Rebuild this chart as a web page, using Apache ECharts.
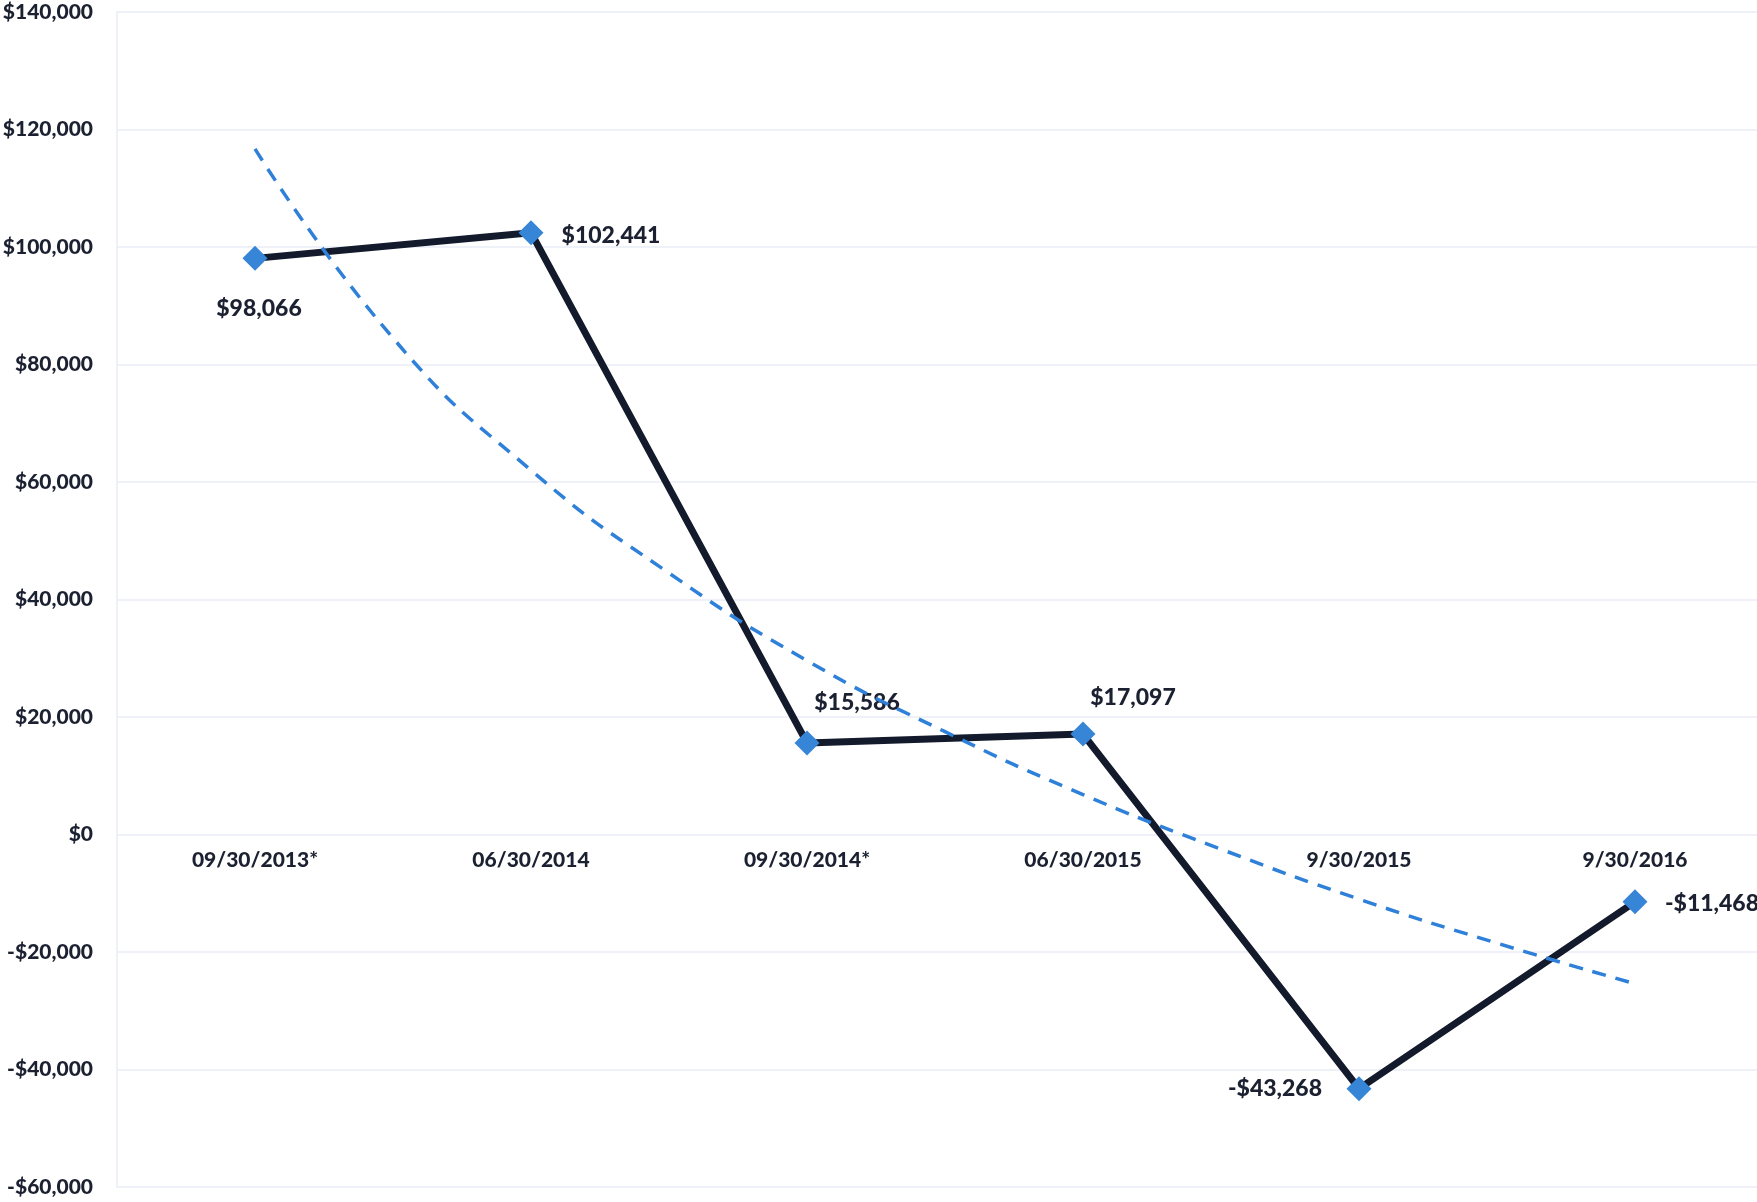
<!DOCTYPE html>
<html>
<head>
<meta charset="utf-8">
<script src="https://cdn.jsdelivr.net/npm/echarts@6/dist/echarts.min.js"></script>
<style>
html,body{margin:0;padding:0;background:#fff;}
#chart{width:1757px;height:1202px;}
</style>
</head>
<body>
<div id="chart"></div>
<script>
// ---- data ----
const categories = ['09/30/2013*', '06/30/2014', '09/30/2014*', '06/30/2015', '9/30/2015', '9/30/2016'];
const values = [98066, 102441, 15586, 17097, -43268, -11468];
// trendline (position along category index, value)
const trendX = [1, 1.5, 2, 2.5, 3, 3.5, 4, 4.5, 5, 5.5, 6];
const trendY = [116700, 84500, 62000, 44500, 29600, 17500, 6800, -2500, -11000, -18500, -25400];
const yTicks = { min: -60000, max: 140000, interval: 20000 };

// label placement (offsets in px from each marker)
const labelOffsets = [[4, 50], [80, 3], [50, -40], [50, -36], [-84, 0], [77, 2]];

function money(v) {
  const s = Math.abs(v).toLocaleString('en-US');
  return (v < 0 ? '-$' : '$') + s;
}

const FONT = 'Lato';
const WEIGHT = 900;
const TXT = '#1b2131';
const GRIDC = '#e9edf4';
const gridBox = { left: 117, right: -16, top: 12, bottom: 15, containLabel: false, outerBoundsMode: 'none' };

const chart = echarts.init(document.getElementById('chart'), null, { renderer: 'canvas' });
chart.setOption({
  backgroundColor: '#ffffff',
  animation: false,
  grid: [Object.assign({}, gridBox), Object.assign({}, gridBox)],
  xAxis: [{
    type: 'category',
    gridIndex: 0,
    data: categories,
    boundaryGap: true,
    axisLine: { show: false },
    axisTick: { show: false },
    // the category labels sit just below the $0 line, as in the original
    axisLabel: { color: TXT, fontFamily: FONT, fontWeight: WEIGHT, fontSize: 21, margin: -327, verticalAlign: 'middle' },
    splitLine: { show: false }
  }, {
    type: 'value',
    gridIndex: 1,
    min: 0.5, max: 6.5,
    show: false,
    axisLine: { onZero: false },
    splitLine: { show: false }
  }],
  yAxis: [{
    type: 'value',
    gridIndex: 0,
    min: yTicks.min, max: yTicks.max, interval: yTicks.interval,
    axisLine: { show: true, onZero: false, lineStyle: { color: GRIDC, width: 1.5 } },
    axisTick: { show: false },
    axisLabel: { color: TXT, fontFamily: FONT, fontWeight: WEIGHT, fontSize: 21, margin: 24, formatter: money },
    splitLine: { show: true, lineStyle: { color: GRIDC, width: 1.5 } }
  }, {
    type: 'value',
    gridIndex: 1,
    min: yTicks.min, max: yTicks.max, interval: yTicks.interval,
    show: false,
    axisLine: { onZero: false },
    splitLine: { show: false }
  }],
  series: [{
    type: 'line',
    xAxisIndex: 0,
    yAxisIndex: 0,
    data: values.map((v, i) => ({
      value: v,
      label: { offset: labelOffsets[i] }
    })),
    lineStyle: { color: '#131a2c', width: 7 },
    symbol: 'diamond',
    symbolSize: 25,
    itemStyle: { color: '#3785d6' },
    label: {
      show: true,
      position: 'inside',
      align: 'center',
      verticalAlign: 'middle',
      color: TXT,
      fontFamily: FONT,
      fontWeight: WEIGHT,
      fontSize: 23,
      formatter: p => money(p.value)
    },
    z: 3
  }, {
    type: 'line',
    xAxisIndex: 1,
    yAxisIndex: 1,
    data: trendX.map((x, i) => [x, trendY[i]]),
    smooth: true,
    showSymbol: false,
    symbol: 'none',
    lineStyle: { color: '#2f80d8', width: 3.5, type: [14, 10] },
    z: 4,
    silent: true
  }]
});
</script>
</body>
</html>
